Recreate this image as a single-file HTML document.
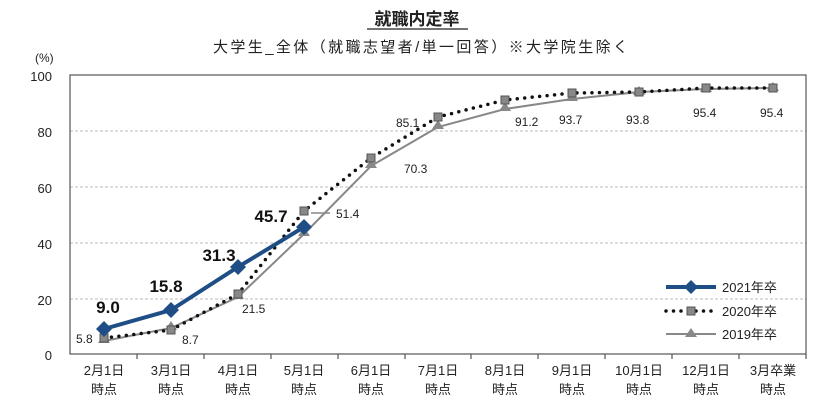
<!DOCTYPE html>
<html><head><meta charset="utf-8"><style>body{margin:0;background:#fff}</style></head><body>
<svg width="840" height="401" xmlns="http://www.w3.org/2000/svg" font-family="Liberation Sans, Noto Sans CJK JP, sans-serif">
<text x="417" y="25" font-size="17" font-weight="bold" text-anchor="middle" fill="#222">就職内定率</text>
<line x1="367" y1="29" x2="468" y2="29" stroke="#222" stroke-width="1.2"/>
<text x="213" y="52" font-size="15" textLength="415" lengthAdjust="spacing" fill="#222">大学生_全体（就職志望者/単一回答）※大学院生除く</text>
<text x="35" y="62" font-size="12" fill="#222">(%)</text>
<g stroke="#bbb" stroke-dasharray="3,2" stroke-width="1">
<line x1="70" y1="131" x2="806" y2="131"/><line x1="70" y1="187" x2="806" y2="187"/>
<line x1="70" y1="243" x2="806" y2="243"/><line x1="70" y1="299" x2="806" y2="299"/>
</g>
<rect x="70" y="75" width="736" height="279" fill="none" stroke="#555" stroke-width="1.2"/>
<g font-size="13" fill="#222" text-anchor="end">
<text x="52" y="81">100</text><text x="52" y="137">80</text><text x="52" y="193">60</text><text x="52" y="249">40</text><text x="52" y="305">20</text><text x="52" y="360">0</text>
</g>
<g stroke="#555" stroke-width="1.2">
<line x1="137" y1="354" x2="137" y2="359"/><line x1="204" y1="354" x2="204" y2="359"/><line x1="271" y1="354" x2="271" y2="359"/><line x1="338" y1="354" x2="338" y2="359"/><line x1="405" y1="354" x2="405" y2="359"/><line x1="471" y1="354" x2="471" y2="359"/><line x1="538" y1="354" x2="538" y2="359"/><line x1="605" y1="354" x2="605" y2="359"/><line x1="672" y1="354" x2="672" y2="359"/><line x1="739" y1="354" x2="739" y2="359"/><line x1="806" y1="354" x2="806" y2="359"/>
</g>
<g font-size="13" fill="#222" text-anchor="middle">
<text x="104" y="375">2月1日</text><text x="104" y="394">時点</text>
<text x="171" y="375">3月1日</text><text x="171" y="394">時点</text>
<text x="238" y="375">4月1日</text><text x="238" y="394">時点</text>
<text x="304" y="375">5月1日</text><text x="304" y="394">時点</text>
<text x="371" y="375">6月1日</text><text x="371" y="394">時点</text>
<text x="438" y="375">7月1日</text><text x="438" y="394">時点</text>
<text x="505" y="375">8月1日</text><text x="505" y="394">時点</text>
<text x="572" y="375">9月1日</text><text x="572" y="394">時点</text>
<text x="639" y="375">10月1日</text><text x="639" y="394">時点</text>
<text x="706" y="375">12月1日</text><text x="706" y="394">時点</text>
<text x="773" y="375">3月卒業</text><text x="773" y="394">時点</text>
</g>
<polyline fill="none" stroke="#888" stroke-width="2" points="104,341 171,328 238,297 304,234 371,166 438,127 505,109 572,99 639,92 706,89 773,88"/>
<g fill="#888">
<path d="M104,334 l6,9 h-12z"/><path d="M171,321 l6,9 h-12z"/><path d="M238,290 l6,9 h-12z"/><path d="M304,227 l6,9 h-12z"/><path d="M371,159 l6,9 h-12z"/><path d="M438,120 l6,9 h-12z"/><path d="M505,102 l6,9 h-12z"/><path d="M572,92 l6,9 h-12z"/><path d="M639,86 l6,9 h-12z"/><path d="M706,83 l6,9 h-12z"/><path d="M773,82 l6,9 h-12z"/>
</g>
<polyline fill="none" stroke="#111" stroke-width="3.5" stroke-linecap="round" stroke-dasharray="0,7.5" points="104,338 171,330 238,294 304,211 371,158 438,117 505,100 572,93 639,92 706,88 773,88"/>
<g fill="#888" stroke="#555" stroke-width="1">
<rect x="100" y="334" width="8" height="8"/><rect x="167" y="326" width="8" height="8"/><rect x="234" y="290" width="8" height="8"/><rect x="300" y="207" width="8" height="8"/><rect x="367" y="154" width="8" height="8"/><rect x="434" y="113" width="8" height="8"/><rect x="501" y="96" width="8" height="8"/><rect x="568" y="89" width="8" height="8"/><rect x="635" y="88" width="8" height="8"/><rect x="702" y="84" width="8" height="8"/><rect x="769" y="84" width="8" height="8"/>
</g>
<polyline fill="none" stroke="#1f4e86" stroke-width="4" points="104,329 171,310 238,267 304,227"/>
<g fill="#1f4e86">
<path d="M104,321 l8,8 l-8,8 l-8,-8z"/><path d="M171,302 l8,8 l-8,8 l-8,-8z"/><path d="M238,259 l8,8 l-8,8 l-8,-8z"/><path d="M304,219 l8,8 l-8,8 l-8,-8z"/>
</g>
<g font-size="17" font-weight="bold" fill="#111" text-anchor="middle">
<text x="108" y="313">9.0</text><text x="166" y="292">15.8</text><text x="219" y="261">31.3</text><text x="271" y="222">45.7</text>
</g>
<line x1="311" y1="213" x2="330" y2="213" stroke="#888" stroke-width="1.5"/>
<g font-size="12" fill="#222">
<text x="76" y="343">5.8</text><text x="182" y="344">8.7</text><text x="242" y="313">21.5</text><text x="336" y="218">51.4</text>
<text x="404" y="173">70.3</text><text x="396" y="127">85.1</text><text x="515" y="126">91.2</text><text x="559" y="124">93.7</text><text x="626" y="124">93.8</text><text x="693" y="117">95.4</text><text x="760" y="117">95.4</text>
</g>
<line x1="666" y1="287" x2="716" y2="287" stroke="#1f4e86" stroke-width="4"/>
<path d="M691,280 l7,7 l-7,7 l-7,-7z" fill="#1f4e86"/>
<line x1="666" y1="311" x2="716" y2="311" stroke="#111" stroke-width="3.5" stroke-linecap="round" stroke-dasharray="0,7.5"/>
<rect x="687" y="307" width="8" height="8" fill="#888" stroke="#555"/>
<line x1="666" y1="334" x2="716" y2="334" stroke="#888" stroke-width="2"/>
<path d="M691,328 l6,9 h-12z" fill="#888"/>
<g font-size="13" fill="#222">
<text x="722" y="292">2021年卒</text><text x="722" y="316">2020年卒</text><text x="722" y="339">2019年卒</text>
</g>
</svg>
</body></html>
